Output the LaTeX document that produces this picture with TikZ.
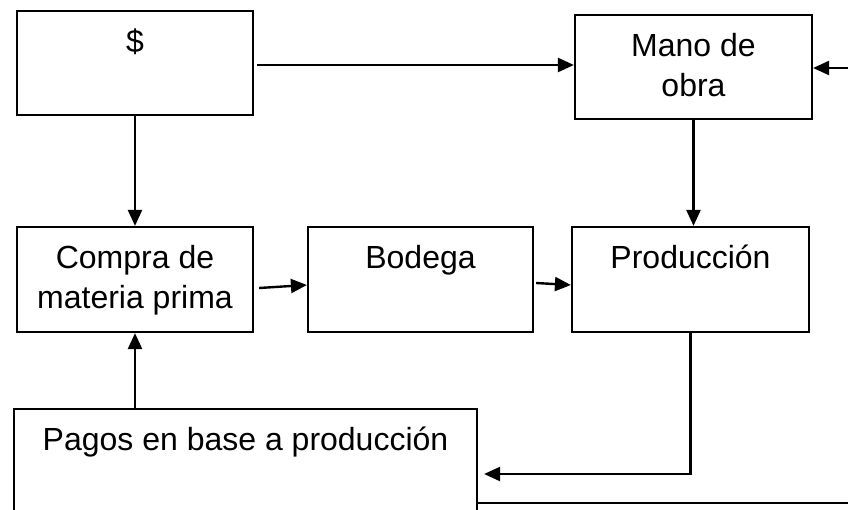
\documentclass[tikz,border=0pt]{standalone}
\usepackage{fontspec}
\setmainfont{Liberation Sans}
\usetikzlibrary{arrows.meta,calc}
\tikzset{
	caja/.style={
			draw, line width=2.2pt, inner sep=0pt,
			minimum width=#1, minimum height=105pt
		},
	texto/.style={
			anchor=north, yshift=-19pt, inner sep=0pt, align=center,
			font=\fontsize{32}{40}\selectfont
		},
	flecha/.style={line width=2.4pt, -{Triangle[length=16pt,width=14pt]}}
}

\begin{document}
\begin{tikzpicture}[x=1pt,y=-1pt]
	\useasboundingbox (0,0) rectangle (848,510);
	\clip (0,0) rectangle (848,510);

	\node[caja=236pt, minimum height=104pt, label={[texto]north:\$}] (dinero) at (135,63) {};
	\node[caja=237pt, minimum height=104pt, label={[texto]north:Mano de\\obra}] (mano) at (693.5,67) {};
	\node[caja=236pt, label={[texto]north:Compra de\\materia prima}] (compra) at (135,279.5) {};
	\node[caja=225pt, label={[texto]north:Bodega}] (bodega) at (420.5,279.5) {};
	\node[caja=237pt, label={[texto]north:Producción}] (produccion) at (690.5,279.5) {};
	\node[caja=463pt, label={[texto]north:Pagos en base a producción}] (pagos) at (245.5,461.5) {};
	\coordinate (borde) at (870,300);

	\draw[flecha] ([xshift=3pt,yshift=-2pt]dinero.east) -- ([yshift=2pt]mano.west);
	\draw[flecha] (dinero.south) -- (compra.north);
	\draw[flecha] (mano.south) -- (mano.south |- produccion.north);
	\draw[flecha] ([xshift=5pt,yshift=-8.5pt]compra.east) -- ([yshift=-5.5pt]bodega.west);
	\draw[flecha] ([xshift=2pt,yshift=-3.5pt]bodega.east) -- ([yshift=-5.5pt]produccion.west);
	\draw[flecha] (produccion.south) |- ([xshift=6pt,yshift=-12.5pt]pagos.east);
	\draw[flecha] (pagos.north -| compra.south) -- (compra.south);
	\draw[flecha] ([yshift=-41.5pt]pagos.east) -| (borde) |- ([yshift=-1pt]mano.east);
\end{tikzpicture}
\end{document}
